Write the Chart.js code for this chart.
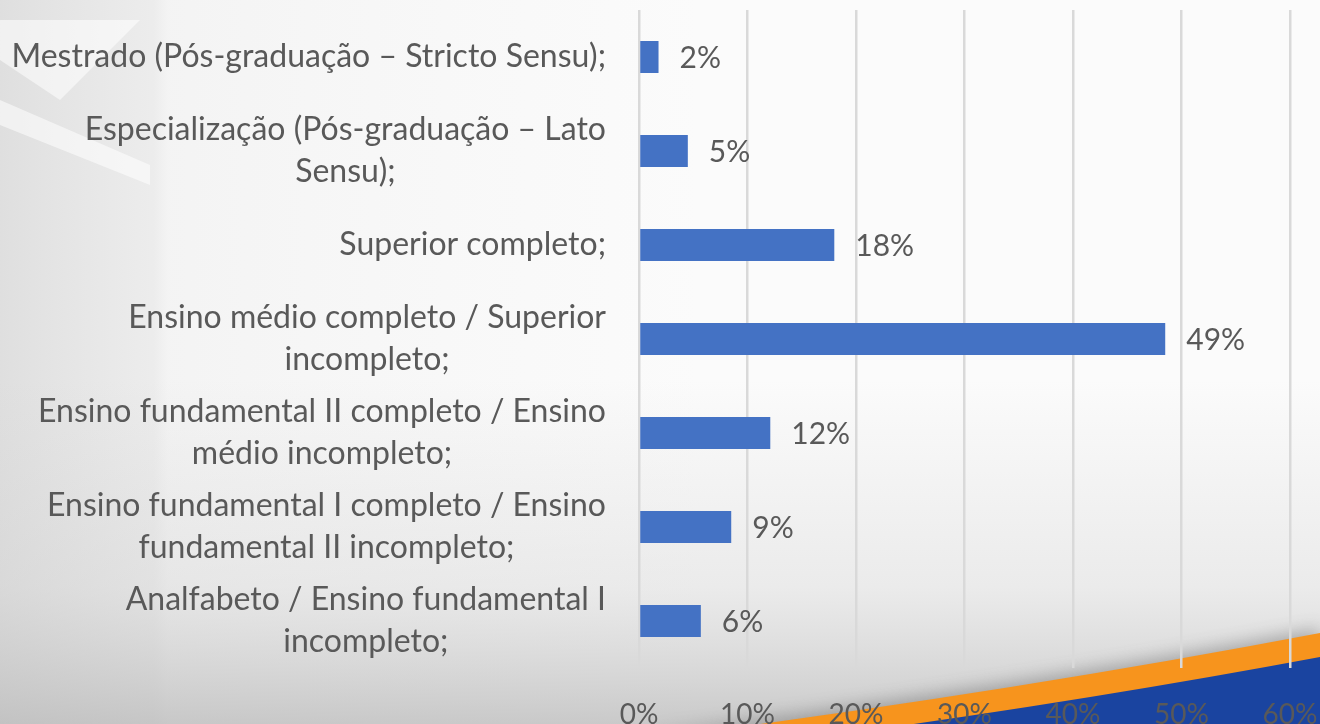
<!DOCTYPE html>
<html>
<head>
<meta charset="utf-8">
<script src="https://cdn.jsdelivr.net/npm/chart.js@4.4.1/dist/chart.umd.min.js"></script>
<style>
  html, body { margin: 0; padding: 0; overflow: hidden; background: #f4f4f4; }
  #wrap { position: relative; width: 1320px; height: 734px; }
</style>
</head>
<body>
<div id="wrap"><canvas id="c"></canvas></div>
<script>
// ---- data ----
const categories = [
  ['Mestrado (Pós-graduação – Stricto Sensu);'],
  ['Especialização (Pós-graduação – Lato', 'Sensu);'],
  ['Superior completo;'],
  ['Ensino médio completo / Superior', 'incompleto;'],
  ['Ensino fundamental II completo / Ensino', 'médio incompleto;'],
  ['Ensino fundamental I completo / Ensino', 'fundamental II incompleto;'],
  ['Analfabeto / Ensino fundamental I', 'incompleto;']
];
const values = [1.8, 4.5, 18.0, 48.5, 12.1, 8.5, 5.7];
const valueLabels = ['2%', '5%', '18%', '49%', '12%', '9%', '6%'];
const xTicks = [0, 10, 20, 30, 40, 50, 60];

// ---- styling ----
const FONT = 'Lato, "Open Sans", "Noto Sans", sans-serif';
const TEXT = '#595959';
const BAR = '#4472C4';

// fit category label font so the longest line is ~594px wide
const mc = document.createElement('canvas').getContext('2d');
mc.font = '28px ' + FONT;
const w28 = mc.measureText(categories[0][0]).width;
const catSize = Math.round(28 * 594 / w28 * 10) / 10;
const catLine = 42;

const bgPlugin = {
  id: 'bg',
  beforeDraw(chart) {
    const ctx = chart.ctx, W = chart.width, H = chart.height;
    ctx.save();
    ctx.fillStyle = '#fbfbfb';
    ctx.fillRect(0, 0, W, H);
    let g = ctx.createLinearGradient(0, 0, 700, 0);
    g.addColorStop(0, 'rgba(195,195,195,0.5)');
    g.addColorStop(0.22, 'rgba(205,205,205,0.32)');
    g.addColorStop(0.24, 'rgba(210,210,210,0.18)');
    g.addColorStop(0.7, 'rgba(220,220,220,0.08)');
    g.addColorStop(1, 'rgba(220,220,220,0)');
    ctx.fillStyle = g;
    ctx.fillRect(0, 0, W, H);
    g = ctx.createLinearGradient(0, 380, 0, 724);
    g.addColorStop(0, 'rgba(205,205,205,0)');
    g.addColorStop(0.6, 'rgba(205,205,205,0.35)');
    g.addColorStop(1, 'rgba(185,185,185,0.75)');
    ctx.fillStyle = g;
    ctx.fillRect(0, 380, W, H - 380);
    ctx.fillStyle = 'rgba(255,255,255,0.55)';
    ctx.beginPath();
    ctx.moveTo(0, 20); ctx.lineTo(140, 20); ctx.lineTo(60, 100); ctx.lineTo(0, 60);
    ctx.closePath(); ctx.fill();
    ctx.beginPath();
    ctx.moveTo(0, 100); ctx.lineTo(150, 165); ctx.lineTo(150, 185); ctx.lineTo(0, 125);
    ctx.closePath(); ctx.fill();
    // orange band with soft shadow
    ctx.save();
    ctx.shadowColor = 'rgba(90,90,90,0.45)';
    ctx.shadowBlur = 18;
    ctx.shadowOffsetY = -4;
    ctx.fillStyle = '#F7941D';
    ctx.beginPath();
    ctx.moveTo(640, 740); ctx.quadraticCurveTo(1000, 694, 1320, 633);
    ctx.lineTo(1320, 740); ctx.closePath(); ctx.fill();
    ctx.restore();
    // blue
    ctx.fillStyle = '#1A44A0';
    ctx.beginPath();
    ctx.moveTo(800, 740); ctx.quadraticCurveTo(1080, 702, 1320, 657);
    ctx.lineTo(1320, 740); ctx.closePath(); ctx.fill();
    ctx.restore();
  }
};

// category labels: block right-aligned to axis, lines centred within block
const catPlugin = {
  id: 'catlabels',
  afterDraw(chart) {
    const ctx = chart.ctx, ys = chart.scales.y;
    const right = chart.chartArea.left - 33;
    ctx.save();
    ctx.font = catSize + 'px ' + FONT;
    ctx.fillStyle = TEXT;
    ctx.textAlign = 'center';
    ctx.textBaseline = 'middle';
    categories.forEach((lines, i) => {
      const yc = ys.getPixelForTick(i);
      const bw = Math.max(...lines.map(l => ctx.measureText(l).width));
      const cx = right - bw / 2;
      const y0 = yc - (lines.length - 1) * catLine / 2;
      lines.forEach((l, k) => ctx.fillText(l, cx, y0 + k * catLine));
    });
    ctx.restore();
  }
};

const labelPlugin = {
  id: 'vlabels',
  afterDatasetsDraw(chart) {
    const ctx = chart.ctx;
    const meta = chart.getDatasetMeta(0);
    ctx.save();
    ctx.font = '30px ' + FONT;
    ctx.fillStyle = TEXT;
    ctx.textAlign = 'left';
    ctx.textBaseline = 'middle';
    meta.data.forEach((bar, i) => {
      ctx.fillText(valueLabels[i], bar.x + 21, bar.y + 1);
    });
    ctx.restore();
  }
};

new Chart(document.getElementById('c'), {
  type: 'bar',
  data: {
    labels: categories,
    datasets: [{
      data: values,
      backgroundColor: BAR,
      borderWidth: 0,
      barPercentage: 0.34,
      categoryPercentage: 1
    }]
  },
  plugins: [bgPlugin, labelPlugin, catPlugin],
  options: {
    indexAxis: 'y',
    responsive: true,
    maintainAspectRatio: false,
    animation: false,
    layout: { padding: { top: 10, right: 30, bottom: 0, left: 0 } },
    plugins: { legend: { display: false }, tooltip: { enabled: false } },
    scales: {
      x: {
        min: 0, max: 60,
        afterBuildTicks(s) { s.ticks = xTicks.map(v => ({ value: v })); },
        afterFit(s) { s.paddingLeft = 0; s.paddingRight = 0; s.height = 66; },
        grid: { color: '#d9d9d9', lineWidth: 2.5, drawTicks: false },
        border: { display: false },
        ticks: {
          padding: 30,
          color: TEXT,
          font: { family: FONT, size: 28, lineHeight: 1.2 },
          callback: v => v + '%',
          maxRotation: 0,
          autoSkip: false
        }
      },
      y: {
        afterFit(s) { s.width = 639; s.paddingTop = 0; s.paddingBottom = 0; },
        grid: { display: false, drawTicks: false },
        border: { display: false },
        ticks: {
          autoSkip: false,
          padding: 33,
          color: 'rgba(0,0,0,0)',
          font: { family: FONT, size: catSize, lineHeight: 1.5 }
        }
      }
    }
  }
});
</script>
</body>
</html>
